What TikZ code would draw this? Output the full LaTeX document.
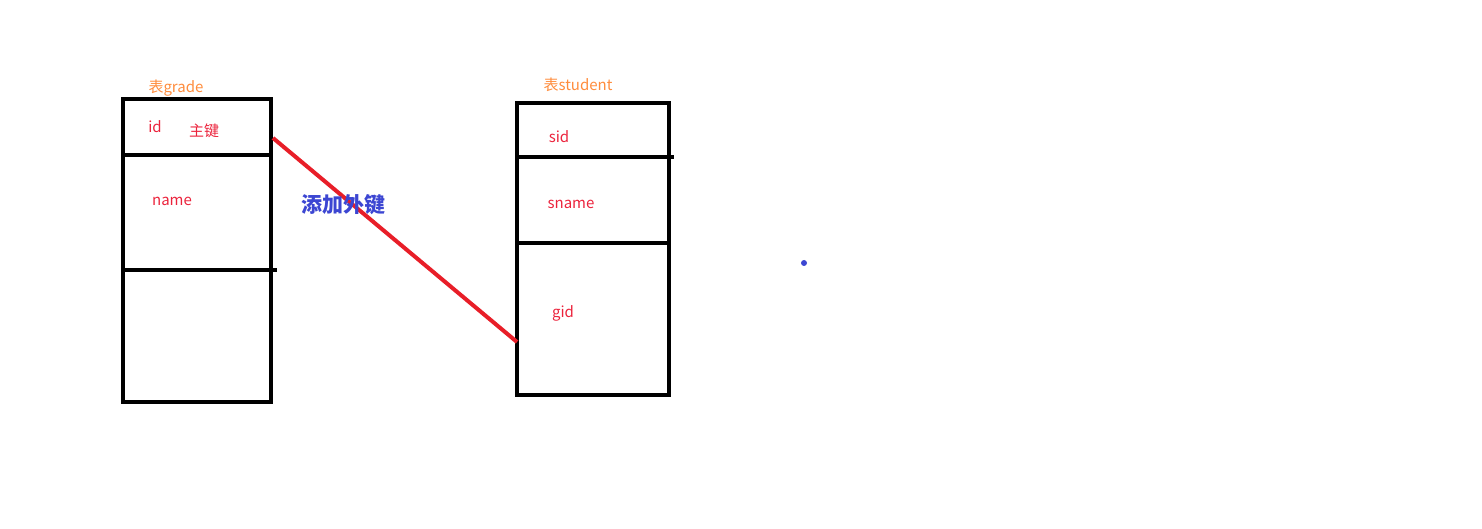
\documentclass[tikz,border=0pt]{standalone}
\usepackage{fontspec}
\setmainfont{Noto Sans CJK SC}
\usepackage{tikz}
\usepackage{color}

\definecolor{tabname}{RGB}{255,140,60}
\definecolor{field}{RGB}{235,35,60}
\definecolor{fkred}{RGB}{232,30,40}
\definecolor{fkblue}{RGB}{60,70,210}

\tikzset{
  tbl/.style={black, line width=2pt},
  fieldtxt/.style={text=field, font=\fontsize{7.5}{9}\selectfont, inner sep=0pt},
  tabtxt/.style={text=tabname, font=\fontsize{7.5}{9}\selectfont, inner sep=0pt},
  fkline/.style={fkred, line width=2pt}
}

\begin{document}
\begin{tikzpicture}[x=0.5pt,y=-0.5pt]
\useasboundingbox (0,0) rectangle (1482,529);

% table grade
\draw[tbl] (123,99) rectangle (271,402);
\draw[tbl] (123,155) -- (271,155);
\draw[tbl] (123,270) -- (277,270);
\node[tabtxt] (gradetitle) at (176,88) {表grade};
\node[fieldtxt] (gradeid) at (155,127) {id};
\node[fieldtxt] (gradepk) at (204,131) {主键};
\node[fieldtxt] (gradename) at (172,201) {name};

% table student
\draw[tbl] (517,103) rectangle (669,395);
\draw[tbl] (517,157) -- (674,157);
\draw[tbl] (517,243) -- (669,243);
\node[tabtxt] (studenttitle) at (578,85) {表student};
\node[fieldtxt] (studentsid) at (559,137) {sid};
\node[fieldtxt] (studentsname) at (571,204) {sname};
\node[fieldtxt] (studentgid) at (563,313) {gid};

% foreign key
\coordinate (fkfrom) at (273,138);
\coordinate (fkto) at (517,342);
\draw[fkline] (fkfrom) -- (fkto);
\node[text=fkblue, font=\fontsize{10.5}{12}\selectfont\bfseries, inner sep=0pt] (fklabel) at (343,205) {添加外键};

\fill[fkblue] (804,263) circle (1.5pt);
\end{tikzpicture}
\end{document}
